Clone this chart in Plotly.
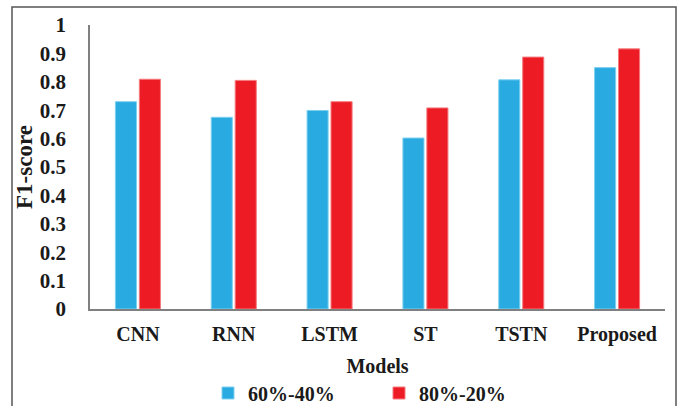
import plotly.graph_objects as go

models = ["CNN", "RNN", "LSTM", "ST", "TSTN", "Proposed"]
split_60_40 = [0.730, 0.675, 0.699, 0.602, 0.807, 0.850]
split_80_20 = [0.809, 0.805, 0.730, 0.708, 0.887, 0.916]
series_names = ["60%-40%", "80%-20%"]
y_ticks = [0, 0.1, 0.2, 0.3, 0.4, 0.5, 0.6, 0.7, 0.8, 0.9, 1]
y_tick_labels = ["0", "0.1", "0.2", "0.3", "0.4", "0.5", "0.6", "0.7", "0.8", "0.9", "1"]

FONT = "Liberation Serif"
BLUE = "#29ABE2"
RED = "#ED1C24"
INK = "#1a1a1a"

fig = go.Figure()
fig.add_trace(go.Bar(x=models, y=split_60_40, name="<b>%s</b>" % series_names[0],
                     marker=dict(color=BLUE, line=dict(color="#7FD0F0", width=1))))
fig.add_trace(go.Bar(x=models, y=split_80_20, name="<b>%s</b>" % series_names[1],
                     marker=dict(color=RED, line=dict(color="#F47A7E", width=1))))

W, H = 678, 406
L, T = 90, 25
R = W - 665
B = H - 309
pw, ph = W - L - R, H - T - B


def px(xp):
    return (xp - L) / pw


def py(yp):
    return (H - B - yp) / ph


fig.update_layout(
    width=W, height=H,
    margin=dict(l=L, r=R, t=T, b=B, pad=0, autoexpand=False),
    paper_bgcolor="white", plot_bgcolor="white",
    barmode="group", bargap=0.5, bargroupgap=0.12,
    font=dict(family=FONT, size=20, color=INK),
    showlegend=True,
    legend=dict(orientation="h", x=px(208), xanchor="left",
                y=py(393), yanchor="middle",
                font=dict(family=FONT, size=20, color=INK),
                itemwidth=30, entrywidth=126, entrywidthmode="pixels",
                tracegroupgap=0, bgcolor="rgba(0,0,0,0)", borderwidth=0),
    xaxis=dict(showline=True, linecolor="#808080", linewidth=1.5,
               showgrid=False, ticks="", ticklabelstandoff=6,
               tickvals=models, ticktext=["<b>%s</b>" % m for m in models],
               tickfont=dict(family=FONT, size=20, color=INK),
               title=dict(text="<b>Models</b>", standoff=14,
                          font=dict(family=FONT, size=20, color=INK))),
    yaxis=dict(range=[0, 1], showline=True, linecolor="#808080", linewidth=1.5,
               showgrid=False, zeroline=False, ticks="",
               tickvals=y_ticks, ticktext=["<b>%s</b>" % t for t in y_tick_labels],
               ticklabelstandoff=18,
               tickfont=dict(family=FONT, size=21, color=INK),
               title=dict(text="<b>F1-score</b>", standoff=1,
                          font=dict(family=FONT, size=23, color=INK))),
)

# outer frame
fig.add_shape(type="rect", xref="paper", yref="paper",
              x0=px(12), x1=px(676),
              y0=py(430), y1=py(7),
              line=dict(color="#555555", width=1.5), fillcolor="rgba(0,0,0,0)", layer="below")

fig.write_html("out.html", config={"displayModeBar": False},
               post_script="document.body.style.margin='0';")
